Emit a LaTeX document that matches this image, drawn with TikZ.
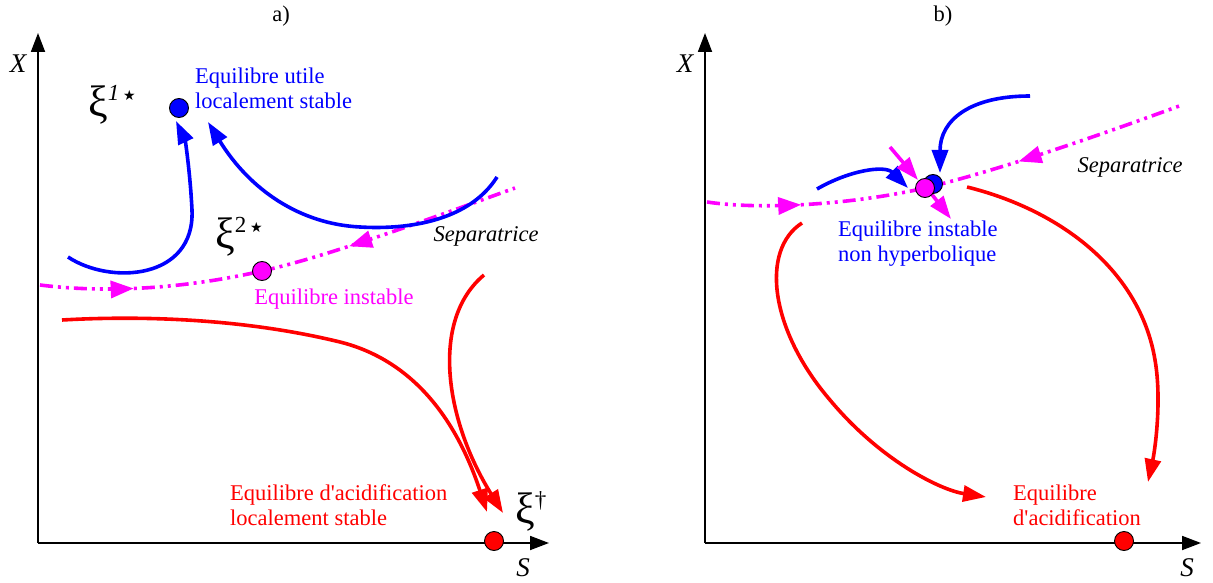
\documentclass[tikz,border=0pt]{standalone}
\usepackage{fontspec}
\setmainfont{Liberation Serif}
\newfontfamily\lsr{Liberation Serif}
\newfontfamily\symfont{DejaVu Sans}
\usetikzlibrary{arrows.meta,decorations.markings}
\definecolor{cblue}{RGB}{0,0,255}
\definecolor{cmag}{RGB}{255,0,255}
\definecolor{cred}{RGB}{255,0,0}
\newcommand\xisym[1]{{\fontsize{44}{44}\selectfont ξ}\raisebox{16pt}{\fontsize{23}{23}\selectfont #1}}
\newcommand\smstar{{\symfont\fontsize{14}{14}\selectfont ★}}
\newcommand\apos{{\lsr\symbol{39}}}
\begin{document}
\begin{tikzpicture}[x=1pt,y=-1pt,
  traj/.style={line width=3.6pt, -{Triangle[length=23pt,width=16pt]}},
  axisline/.style={line width=1.8pt, -{Triangle[length=19pt,width=14pt]}},
  sep/.style={cmag, line width=3.6pt, dash pattern=on 13pt off 5pt on 3pt off 5pt on 3pt off 5pt},
  midarrow/.style={postaction={decorate, decoration={markings, mark=at position #1 with {\arrow{Triangle[length=23pt,width=17pt]}}}}},
  midarrowrev/.style={postaction={decorate, decoration={markings, mark=at position #1 with {\arrowreversed{Triangle[length=23pt,width=17pt]}}}}},
  dotn/.style={circle, draw=black, line width=0.9pt, minimum size=19pt, inner sep=0pt},
  lbl/.style={font=\fontsize{22.5}{25}\selectfont, align=left, inner sep=0pt},
  axlbl/.style={font=\fontsize{27}{27}\selectfont\itshape, inner sep=0pt},
  xilbl/.style={inner sep=0pt, anchor=west}
]
\useasboundingbox (0,0) rectangle (1213,583);

% ---------------- panel a ----------------
\node[lbl] (ta) at (281,16) {a)};
\coordinate (oa) at (38,543);
\coordinate (ya) at (38,33);
\coordinate (xa) at (549,543);
\draw[axisline] (oa) -- (ya);
\draw[axisline] (oa) -- (xa);
\node[axlbl] (Xa) at (18,64) {X};
\node[axlbl] (Sa) at (523,568) {S};

\coordinate (e1) at (179,108);
\coordinate (e2) at (262,271);
\coordinate (e3) at (494,541);

% separatrix a
\coordinate (sa1) at (40,285);
\coordinate (sa2) at (515,188);
\draw[sep, midarrow=0.42] (sa1) .. controls (120,295) and (200,285) .. (e2);
\draw[sep, midarrowrev=0.34] (e2) .. controls (330,256) and (440,215) .. (sa2);

% blue trajectories a
\coordinate (ba1) at (68,257);
\coordinate (ba1m) at (192,210);
\coordinate (ba1t) at (176,121);
\draw[cblue, traj] (ba1) .. controls (110,285) and (195,280) .. (ba1m) .. controls (190,170) and (185,140) .. (ba1t);
\coordinate (ba2) at (497,177);
\coordinate (ba2m) at (360,227);
\coordinate (ba2t) at (208,122);
\draw[cblue, traj] (ba2) .. controls (470,220) and (410,230) .. (ba2m) .. controls (300,224) and (250,190) .. (ba2t);

% red trajectories a
\coordinate (ra1) at (62,320);
\coordinate (ra1m) at (340,342);
\coordinate (ra1t) at (487,512);
\draw[cred, traj] (ra1) .. controls (150,315) and (250,320) .. (ra1m) .. controls (420,362) and (460,430) .. (ra1t);
\coordinate (ra2) at (484,275);
\coordinate (ra2t) at (503,513);
\draw[cred, traj] (ra2) .. controls (430,320) and (445,420) .. (ra2t);

\node[dotn, fill=cblue] (d1) at (e1) {};
\node[dotn, fill=cmag] (d2) at (e2) {};
\node[dotn, fill=cred] (d3) at (e3) {};

\node[lbl, cblue, anchor=west] (l1) at (195,88) {Equilibre utile\\localement stable};
\node[lbl, cmag] (l2) at (334,299) {Equilibre instable};
\node[lbl, cred, anchor=west] (l3) at (230,505) {Equilibre d\apos acidification\\localement stable};
\node[lbl, font=\fontsize{22.5}{25}\selectfont\itshape] (sepa) at (486,236) {Separatrice};

\node[xilbl] (xi1) at (88,105) {\xisym{\textit{1}\,\smstar}};
\node[xilbl] (xi2) at (215,237) {\xisym{2\,\smstar}};
\node[xilbl] (xi3) at (515,511) {\xisym{†}};

% ---------------- panel b ----------------
\node[lbl] (tb) at (943,16) {b)};
\coordinate (ob) at (705,543);
\coordinate (yb) at (705,33);
\coordinate (xb) at (1201,543);
\draw[axisline] (ob) -- (yb);
\draw[axisline] (ob) -- (xb);
\node[axlbl] (Xb) at (685,64) {X};
\node[axlbl] (Sb) at (1187,568) {S};

\coordinate (eb) at (933,184);
\coordinate (em) at (925,188);
\coordinate (er) at (1124,541);

% separatrix b
\coordinate (sb1) at (707,202);
\coordinate (sb2) at (1182,105);
\draw[sep, midarrow=0.43] (sb1) .. controls (760,210) and (850,205) .. (em);
\draw[sep, midarrowrev=0.36] (em) .. controls (1000,170) and (1100,135) .. (sb2);

% blue arrows b
\coordinate (bb1) at (817,189);
\coordinate (bb1t) at (908,188);
\draw[cblue, traj] (bb1) .. controls (850,170) and (885,165) .. (bb1t);
\coordinate (bb2) at (1030,96);
\coordinate (bb2t) at (940,173);
\draw[cblue, traj] (bb2) .. controls (970,96) and (940,120) .. (bb2t);

% magenta short arrows b
\coordinate (mb1) at (890,147);
\coordinate (mb1t) at (918,180);
\draw[cmag, traj] (mb1) -- (mb1t);
\coordinate (mb2) at (930,192);
\coordinate (mb2t) at (951,219);
\draw[cmag, traj] (mb2) -- (mb2t);

% red trajectories b
\coordinate (rb1) at (802,223);
\coordinate (rb1m) at (830,400);
\coordinate (rb1t) at (986,497);
\draw[cred, traj] (rb1) .. controls (760,250) and (770,330) .. (rb1m) .. controls (880,460) and (940,490) .. (rb1t);
\coordinate (rb2) at (967,187);
\coordinate (rb2m) at (1155,360);
\coordinate (rb2t) at (1148,482);
\draw[cred, traj] (rb2) .. controls (1060,210) and (1140,270) .. (rb2m) .. controls (1162,400) and (1155,450) .. (rb2t);

\node[dotn, fill=cblue] (db) at (eb) {};
\node[dotn, fill=cmag] (dm) at (em) {};
\node[dotn, fill=cred] (dr) at (er) {};

\node[lbl, cblue, anchor=west] (l4) at (838,244) {Equilibre instable\\non hyperbolique};
\node[lbl, cred, anchor=west] (l5) at (1013,505) {Equilibre\\d\apos acidification};
\node[lbl, font=\fontsize{22.5}{25}\selectfont\itshape] (sepb) at (1130,167) {Separatrice};
\end{tikzpicture}
\end{document}
